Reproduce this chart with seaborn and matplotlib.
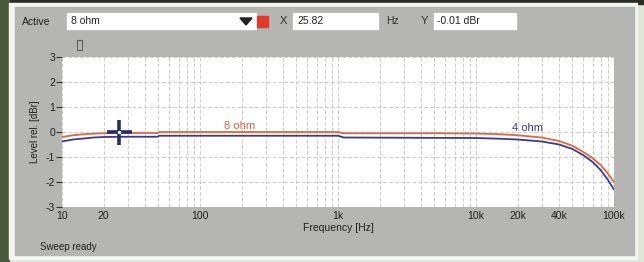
import numpy as np
import pandas as pd
import matplotlib
matplotlib.use("Agg")
import matplotlib.pyplot as plt
import seaborn as sns
from matplotlib.patches import Rectangle, Polygon
from matplotlib.ticker import FixedLocator, NullFormatter

freq_8 = [10, 12, 15, 20, 30, 49, 51, 100, 300, 1000, 1100, 3000, 5000, 10000,
          15000, 20000, 30000, 40000, 50000, 60000, 70000, 80000, 90000, 100000]
level_8 = [-0.20, -0.13, -0.08, -0.05, -0.04, -0.04, 0.0, 0.0, 0.0, 0.0, -0.05, -0.05,
           -0.05, -0.06, -0.09, -0.13, -0.22, -0.36, -0.55, -0.80, -1.05, -1.32, -1.65, -2.0]

freq_4 = [10, 12, 15, 17, 20, 30, 49, 51, 100, 300, 1000, 1100, 3000, 10000,
          15000, 20000, 30000, 40000, 50000, 60000, 70000, 80000, 90000, 100000]
level_4 = [-0.38, -0.30, -0.25, -0.22, -0.20, -0.19, -0.19, -0.15, -0.15, -0.15, -0.15,
           -0.22, -0.23, -0.24, -0.27, -0.30, -0.38, -0.50, -0.68, -0.93, -1.20, -1.52, -1.90, -2.30]

x_ticks = [10, 20, 100, 1000, 10000, 20000, 40000, 100000]
x_tick_labels = ["10", "20", "100", "1k", "10k", "20k", "40k", "100k"]
y_ticks = [3, 2, 1, 0, -1, -2, -3]

cursor_x, cursor_y = 25.82, -0.01

df = pd.concat([
    pd.DataFrame({"freq": freq_8, "level": level_8, "load": "8 ohm"}),
    pd.DataFrame({"freq": freq_4, "level": level_4, "load": "4 ohm"}),
])

sns.set_style("white")
plt.rcParams["font.family"] = ["Liberation Sans", "DejaVu Sans"]

W, H = 644, 262
fig = plt.figure(figsize=(W / 100, H / 100), dpi=100)
fig.patch.set_facecolor("#dfe8d8")


def px(x0, y0, x1, y1):
    # pixel box (top-left origin) -> figure fraction rect
    return (x0 / W, 1 - y1 / H, (x1 - x0) / W, (y1 - y0) / H)


def rect(x0, y0, x1, y1, **kw):
    l, b, w, h = px(x0, y0, x1, y1)
    fig.patches.append(Rectangle((l, b), w, h, transform=fig.transFigure, **kw))


def ftext(x, y, s, **kw):
    fig.text(x / W, 1 - y / H, s, **kw)


# screenshot surroundings
rect(0, 0, W, 4, color="#2a2c26")
rect(0, 0, 9, H, color="#4a5a3c")
rect(9, 3, 637, 259, color="#f4f4f2")
rect(15, 7, 634, 255, color="#b5b5b3")

# toolbar
ftext(22, 22, "Active", fontsize=7.5, va="center", color="#202020")
rect(67, 13, 256, 29, color="white")
tri = Polygon([[240 / W, 1 - 18 / H], [252 / W, 1 - 18 / H], [246 / W, 1 - 25 / H]],
              closed=True, transform=fig.transFigure, color="#202020")
fig.patches.append(tri)
ftext(71, 21, "8 ohm", fontsize=7.5, va="center", color="#202020")
rect(257, 16, 268, 27, color="#e03a2a")
ftext(283, 21, "X", fontsize=8, va="center", ha="center", color="#303030")
rect(293, 13, 378, 29, color="white")
ftext(297, 21, "25.82", fontsize=7.5, va="center", color="#202020")
ftext(386, 21, "Hz", fontsize=7.5, va="center", color="#303030")
ftext(424, 21, "Y", fontsize=8, va="center", ha="center", color="#303030")
rect(434, 13, 516, 29, color="white")
ftext(437, 21, "-0.01 dBr", fontsize=7.5, va="center", color="#202020")
rect(77, 40, 82, 50, fill=False, edgecolor="#606060", lw=0.8)

# plot area
ax = fig.add_axes(px(62, 57, 614, 207))
ax.set_zorder(5)
ax.set_facecolor("white")
ax.set_xscale("log")

sns.lineplot(data=df, x="freq", y="level", hue="load",
             palette={"8 ohm": "#e2653f", "4 ohm": "#3c3a8c"},
             linewidth=1.3, legend=False, ax=ax, estimator=None, sort=True)

ax.set_xlim(10, 100000)
ax.set_ylim(-3, 3)

ax.xaxis.set_major_locator(FixedLocator(x_ticks))
ax.set_xticklabels(x_tick_labels)
minors = [m * 10 ** e for e in range(1, 5) for m in range(1, 10)]
ax.xaxis.set_minor_locator(FixedLocator(minors))
ax.xaxis.set_minor_formatter(NullFormatter())
ax.set_yticks(y_ticks)
ax.set_yticklabels([str(v) for v in y_ticks])

ax.grid(True, which="both", axis="x", color="#cdcdcd", lw=0.7, ls=(0, (4, 2)))
ax.grid(True, which="major", axis="y", color="#cdcdcd", lw=0.7, ls=(0, (4, 2)))

ax.tick_params(axis="x", which="major", direction="in", length=4, width=0.8,
               color="#404040", labelsize=7.5, labelcolor="#202020", pad=3)
ax.tick_params(axis="x", which="minor", length=0)
ax.tick_params(axis="y", which="major", direction="out", length=4, width=0.8,
               color="#303030", labelsize=7.5, labelcolor="#202020", pad=1, left=True)
for s in ax.spines.values():
    s.set_visible(False)

ax.set_xlabel("Frequency [Hz]", fontsize=7.5, color="#202020", labelpad=1)
ax.set_ylabel("Level rel. [dBr]", fontsize=7, color="#202020", labelpad=4)

ax.text(195, 0.23, "8 ohm", color="#e2653f", fontsize=8, ha="center", va="center")
ax.text(23500, 0.15, "4 ohm", color="#3c3a8c", fontsize=8, ha="center", va="center")

# cursor
ax.plot([cursor_x], [cursor_y], marker="+", markersize=18, mew=2.6, color="#2c2c66")
ax.plot([cursor_x], [cursor_y], marker="o", markersize=2.5, color="white", mew=0)

ftext(40, 247, "Sweep ready", fontsize=7, va="center", color="#202020")

fig.savefig("out.png", dpi=100)
